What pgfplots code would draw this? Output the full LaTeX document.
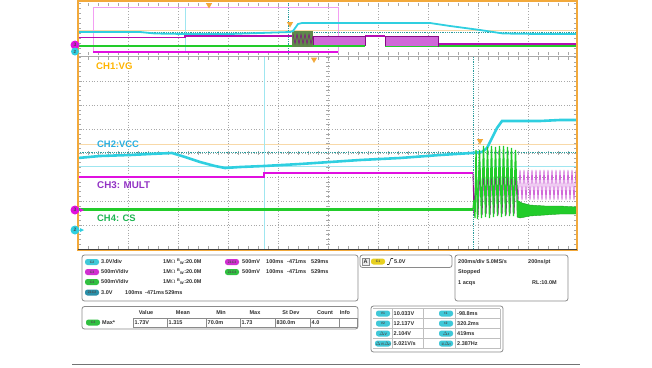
\documentclass[border=0pt]{standalone}
\usepackage{fontspec}
\setmainfont{Liberation Sans}
\usepackage{pgfplots}
\pgfplotsset{compat=1.18}
\definecolor{frameor}{HTML}{F2A93B}
\definecolor{gridc}{HTML}{A8A8A8}
\definecolor{vcc}{HTML}{2FCFE0}
\definecolor{mult}{HTML}{E010E0}
\definecolor{multl}{HTML}{D068D8}
\definecolor{csg}{HTML}{22CC2A}
\definecolor{lblor}{HTML}{FFB400}
\definecolor{lblcy}{HTML}{2AAEE0}
\definecolor{lblpu}{HTML}{9232C4}
\definecolor{lblgr}{HTML}{1FB553}
\definecolor{tealdot}{HTML}{2A9C9C}
\definecolor{lcyan}{HTML}{9FE6F0}
\definecolor{lorange}{HTML}{F8D9A8}
\definecolor{pillcy}{HTML}{3FC8D8}
\definecolor{pillmg}{HTML}{D030D0}
\definecolor{pillgr}{HTML}{30C040}
\definecolor{pilltl}{HTML}{2A8FA8}
\definecolor{pillye}{HTML}{E8D020}
\definecolor{boxc}{HTML}{8A8A8A}
\definecolor{txt}{HTML}{303030}
\definecolor{darkblk}{HTML}{5E8A4A}
\begin{document}
\begin{tikzpicture}
\begin{axis}[scale only axis, width=652pt, height=367pt,
  xmin=0, xmax=652, ymin=0, ymax=367, y dir=reverse,
  axis lines=none, clip=false,
  every axis plot/.append style={no markers}]
\path (0,0) rectangle (652,367);
% ---------- grid main ----------
\pgfplotsinvokeforeach{128,178,228,278,328,378,428,478,528}{
  \draw[gridc, dotted, line width=0.7pt] (#1,57) -- (#1,249);
  \draw[gridc, dotted, line width=0.7pt] (#1,3) -- (#1,55);}
\pgfplotsinvokeforeach{81,105,129,153,177,201,225}{
  \draw[gridc, dotted, line width=0.7pt] (78,#1) -- (577,#1);}
\pgfplotsinvokeforeach{0,...,49}{
  \draw[gridc, line width=0.5pt] ({78+10*#1},57) -- ({78+10*#1},60);
  \draw[gridc, line width=0.5pt] ({78+10*#1},246) -- ({78+10*#1},249);
  \draw[gridc, line width=0.5pt] ({78+10*#1},151) -- ({78+10*#1},155);
  \draw[gridc, line width=0.5pt] ({78+10*#1},3) -- ({78+10*#1},6);
  \draw[gridc, line width=0.5pt] ({78+10*#1},52) -- ({78+10*#1},55);}
\pgfplotsinvokeforeach{0,...,40}{
  \draw[gridc, line width=0.5pt] (78,{57+4.8*#1}) -- (81,{57+4.8*#1});
  \draw[gridc, line width=0.5pt] (574,{57+4.8*#1}) -- (577,{57+4.8*#1});
  \draw[gridc, line width=0.5pt] (326,{57+4.8*#1}) -- (330,{57+4.8*#1});}
\pgfplotsinvokeforeach{0,...,10}{
  \draw[gridc, line width=0.5pt] (78,{3+5*#1}) -- (81,{3+5*#1});
  \draw[gridc, line width=0.5pt] (574,{3+5*#1}) -- (577,{3+5*#1});}
\draw[gridc, line width=0.8pt] (78,56.5) -- (577,56.5);
% ---------- cursors ----------
\draw[lorange, line width=0.8pt] (78,144) -- (577,144);
\draw[tealdot, densely dotted, line width=0.8pt] (78,152.5) -- (577,152.5);
\draw[lcyan, line width=0.8pt] (78,166.5) -- (577,166.5);
\draw[lcyan, line width=1pt] (264,57) -- (264,249);
\draw[tealdot, densely dotted, line width=0.8pt] (473,57) -- (473,249);
\draw[lorange, line width=0.6pt] (78,30.5) -- (577,30.5);
\draw[tealdot, densely dotted, line width=0.8pt] (78,32) -- (577,32);
\draw[lcyan, line width=0.8pt] (185,7) -- (185,52);
\draw[tealdot, densely dotted, line width=0.8pt] (288,3) -- (288,55);
\draw[mult!40!white, line width=0.6pt] (93,7) rectangle (338,52);
% ---------- overview traces ----------
\addplot[mult, line width=2.2pt] coordinates {(93,52) (338,52)};
\addplot[csg, line width=1.8pt] coordinates {(78,46) (365,46)};
\addplot[csg, line width=1.8pt] coordinates {(385,46) (577,46)};
\addplot[mult!80!black, line width=1.1pt] coordinates {(78,37.5) (185,37.5) (185,36) (313,36)};
\addplot[mult!80!black, line width=1.1pt] coordinates {(365,36) (385,36)};
\addplot[mult!80!black, line width=1.1pt] coordinates {(438,44) (577,44)};
\addplot[fill=multl, draw=mult!60!black, line width=0.4pt] coordinates {(313,36) (365,36) (365,45) (313,45)} -- cycle;
\addplot[fill=multl, draw=mult!60!black, line width=0.4pt] coordinates {(385,36) (438,36) (438,46) (385,46)} -- cycle;
\addplot[fill=darkblk, draw=none] coordinates {(292,31) (313,31) (313,47) (292,47)} -- cycle;
\addplot[mult!60!black, line width=0.5pt] coordinates {(293,34) (295,44) (297,34) (299,44) (301,34) (303,44) (305,34) (307,44) (309,34) (311,44) (313,36)};
\addplot[csg, line width=1.4pt] coordinates {(313,46) (365,46)};
\addplot[csg, line width=1.4pt] coordinates {(385,46.5) (438,46.5)};
\addplot[vcc, line width=1.8pt] coordinates {(78,32) (140,32) (155,33.5) (185,34) (230,34) (260,33) (290,32) (293,31) (298,24) (302,23) (430,23) (450,26) (480,30) (503,33.5) (540,34) (577,34)};
% ---------- main traces ----------
\addplot[mult, line width=2.4pt] coordinates {(78,177) (264,177) (264,173) (473,173)};
\addplot[multl, line width=0.8pt] coordinates {(518,200) (520,170) (522,200) (524,170) (526,200) (528,170) (530,200) (532,170) (534,200) (536,170) (538,200) (540,170) (542,200) (544,170) (546,200) (548,170) (550,200) (552,170) (554,200) (556,170) (558,200) (560,170) (562,200) (564,170) (566,200) (568,170) (570,200) (572,170) (574,200) (576,170) (577,185)};
\addplot[mult!65!black, line width=0.9pt] coordinates {(473,173) (474,215) (476,169) (478,215) (480,168) (482,215) (484,168) (486,214) (488,168) (490,215) (492,168) (494,214) (496,168) (498,215) (500,168) (502,214) (504,168) (506,215) (508,169) (510,214) (512,168) (514,214) (516,169) (518,200)};
\addplot[vcc, line width=2.6pt] coordinates {(78,158) (100,156) (130,155) (150,154) (172,153) (185,157) (200,162) (215,166) (225,168) (240,167) (264,166) (300,164) (330,162) (360,160) (400,158) (440,155) (472,153) (482,152) (487,148) (492,138) (497,128) (502,121) (520,121) (540,121) (560,120) (577,120)};
\addplot[csg, line width=2.6pt] coordinates {(78,209.5) (473,209.5)};
\addplot[fill=csg, draw=csg!80!black, line width=0.4pt] coordinates {(517,200) (522,203) (530,205) (545,206) (560,206) (577,207) (577,214) (560,214) (545,215) (530,216) (520,218) (517,217)} -- cycle;
\addplot[csg, line width=1.3pt] coordinates {(473,209) (474,200) (475,218) (476,150) (477.5,219) (479.5,150) (481.5,218) (483.5,146) (485.5,217) (487.5,147) (489.5,218) (491.5,146) (493.5,217) (495.5,147) (497.5,216) (499.5,146) (501.5,217) (503.5,146) (505.5,216) (507.5,147) (509.5,216) (511.5,148) (513.5,216) (515.5,150) (517.5,214) (519,205)};
% ---------- markers ----------
\fill[frameor] (205.8,3) -- (212.2,3) -- (209,8.5) -- cycle;
\fill[frameor] (286.8,22) -- (293.2,22) -- (290,27.5) -- cycle;
\fill[frameor] (310.8,57.5) -- (317.2,57.5) -- (314,63) -- cycle;
\fill[frameor] (476.8,139) -- (483.2,139) -- (480,144.5) -- cycle;
% ---------- frame ----------
\draw[frameor, line width=1.6pt] (78,1) rectangle (577,250.5);
\draw[black!75, line width=0.7pt] (78,249.5) -- (577,249.5);
% channel markers
\fill[mult] (75,210) circle[radius=4.5];
\node[font=\fontsize{5}{5}\selectfont\bfseries, text=black!70] at (75,210) {3};
\fill[mult] (80,208) -- (84,210) -- (80,212) -- cycle;
\fill[vcc] (75,230) circle[radius=4.5];
\node[font=\fontsize{5}{5}\selectfont\bfseries, text=black!70] at (75,230) {2};
\fill[vcc] (80,228) -- (84,230) -- (80,232) -- cycle;
\fill[mult] (75,45) circle[radius=4.5];
\node[font=\fontsize{5}{5}\selectfont\bfseries, text=black!70] at (75,45) {3};
\fill[vcc] (75,51.5) circle[radius=4];
\node[font=\fontsize{4.5}{5}\selectfont\bfseries, text=black!70] at (75,51.5) {2};
% labels
\node[anchor=west, text=lblor, font=\fontsize{9.6}{12}\selectfont\bfseries, inner sep=0] at (96,66) {CH1:VG};
\node[anchor=west, text=lblcy, font=\fontsize{9.4}{12}\selectfont\bfseries, inner sep=0] at (97,144) {CH2:VCC};
\node[anchor=west, text=lblpu, font=\fontsize{9.8}{12}\selectfont\bfseries, inner sep=0] at (97,185.5) {CH3: MULT};
\node[anchor=west, text=lblgr, font=\fontsize{9.4}{12}\selectfont\bfseries, inner sep=0] at (97,218.5) {CH4: CS};
% ---------- info boxes ----------
\tikzset{ibox/.style={draw=boxc, line width=0.8pt, rounded corners=2.5pt, fill=white},
  pill/.style={rounded corners=2.5pt, minimum width=14pt, minimum height=6pt, inner sep=0.3pt, text=black!70, font=\fontsize{3.4}{4}\selectfont\bfseries},
  it/.style={anchor=west, inner sep=0, text=txt, font=\fontsize{5.5}{6}\selectfont\bfseries},
  ic/.style={inner sep=0, text=txt, font=\fontsize{5.5}{6}\selectfont\bfseries}}
\draw[ibox] (82,255) rectangle (358,301);
\draw[ibox] (360,255) rectangle (452,267.5);
\draw[ibox] (455,255) rectangle (568,301);
\draw[ibox] (82,306.5) rectangle (358,329);
\draw[ibox] (371,306) rectangle (503,352);
% box1
\node[pill, fill=pillcy] at (92,262) {C2};
\node[pill, fill=pillmg] at (92,272) {C3};
\node[pill, fill=pillgr] at (92,282) {C4};
\node[pill, fill=pilltl] at (92,292.5) {Z1C2};
\node[it] at (101,262) {3.0V/div};
\node[it] at (101,272) {500mV/div};
\node[it] at (101,282) {500mV/div};
\node[it] at (163,262) {1M$\Omega$ \textsuperscript{B}\kern-0.3pt\textsubscript{W}:20.0M};
\node[it] at (163,272) {1M$\Omega$ \textsuperscript{B}\kern-0.3pt\textsubscript{W}:20.0M};
\node[it] at (163,282) {1M$\Omega$ \textsuperscript{B}\kern-0.3pt\textsubscript{W}:20.0M};
\node[it] at (101,292.5) {3.0V};
\node[it] at (125,292.5) {100ms};
\node[it] at (145,292.5) {-471ms};
\node[it] at (165,292.5) {529ms};
\node[pill, fill=pillmg] at (232,262) {Z1C3};
\node[pill, fill=pillgr] at (232,272) {Z1C4};
\node[it] at (242,262) {500mV};
\node[it] at (266,262) {100ms};
\node[it] at (287,262) {-471ms};
\node[it] at (311,262) {529ms};
\node[it] at (242,272) {500mV};
\node[it] at (266,272) {100ms};
\node[it] at (287,272) {-471ms};
\node[it] at (311,272) {529ms};
% box2
\draw[draw=boxc, fill=black!8, line width=0.4pt] (362,258) rectangle (369,265);
\node[ic] at (365.5,261.5) {A};
\node[pill, fill=pillye] at (378,261.5) {C1};
\draw[txt, line width=0.6pt] (387,264.5) -- (389,264.5) -- (391,258.5) -- (393,258.5);
\node[it] at (394,261.5) {5.0V};
% box3
\node[it] at (458,262) {200ms/div 5.0MS/s};
\node[it] at (528,262) {200ns/pt};
\node[it] at (458,272.5) {Stopped};
\node[it] at (458,283) {1 acqs};
\node[it] at (532,283) {RL:10.0M};
% box4
\node[ic] at (146,313) {Value};
\node[ic] at (183,313) {Mean};
\node[ic] at (221,313) {Min};
\node[ic] at (255,313) {Max};
\node[ic] at (291,313) {St Dev};
\node[ic] at (325,313) {Count};
\node[ic] at (345,313) {Info};
\node[pill, fill=pillgr] at (93,322.5) {C4};
\node[it] at (102,322.5) {Max*};
\draw[boxc, line width=0.5pt] (133,318) rectangle (357,327.5);
\pgfplotsinvokeforeach{167,206,240,275,310,339}{\draw[boxc, line width=0.5pt] (#1,318) -- (#1,327.5);}
\node[it] at (134.5,322.5) {1.73V};
\node[it] at (168.5,322.5) {1.315};
\node[it] at (207.5,322.5) {70.0m};
\node[it] at (241.5,322.5) {1.73};
\node[it] at (276.5,322.5) {830.0m};
\node[it] at (311.5,322.5) {4.0};
% box5
\pgfplotsinvokeforeach{308.5,318.5,328.5,338.5,348.5}{\draw[black!25, line width=0.4pt] (373,#1) -- (500,#1);}
\draw[black!25, line width=0.4pt] (392,308.5) -- (392,348.5);
\draw[black!25, line width=0.4pt] (423,308.5) -- (423,348.5);
\draw[black!25, line width=0.4pt] (455,308.5) -- (455,348.5);
\draw[black!25, line width=0.4pt] (500,308.5) -- (500,348.5);
\node[pill, fill=pillcy] at (383,313.5) {V1};
\node[pill, fill=pillcy] at (383,323.5) {V2};
\node[pill, fill=pillcy] at (383,333.5) {$\Delta$V};
\node[pill, fill=pillcy, minimum width=16pt] at (383,343.5) {$\Delta$V/$\Delta$t};
\node[it] at (393.5,313.5) {10.033V};
\node[it] at (393.5,323.5) {12.137V};
\node[it] at (393.5,333.5) {2.104V};
\node[it] at (393.5,343.5) {5.021V/s};
\node[pill, fill=pillcy] at (446,313.5) {t1};
\node[pill, fill=pillcy] at (446,323.5) {t2};
\node[pill, fill=pillcy] at (446,333.5) {$\Delta$t};
\node[pill, fill=pillcy] at (446,343.5) {1/$\Delta$t};
\node[it] at (457,313.5) {-98.8ms};
\node[it] at (457,323.5) {320.2ms};
\node[it] at (457,333.5) {419ms};
\node[it] at (457,343.5) {2.387Hz};
% bottom rule
\draw[black!55, line width=0.9pt] (72,364) -- (580,364);
\end{axis}
\end{tikzpicture}
\end{document}
